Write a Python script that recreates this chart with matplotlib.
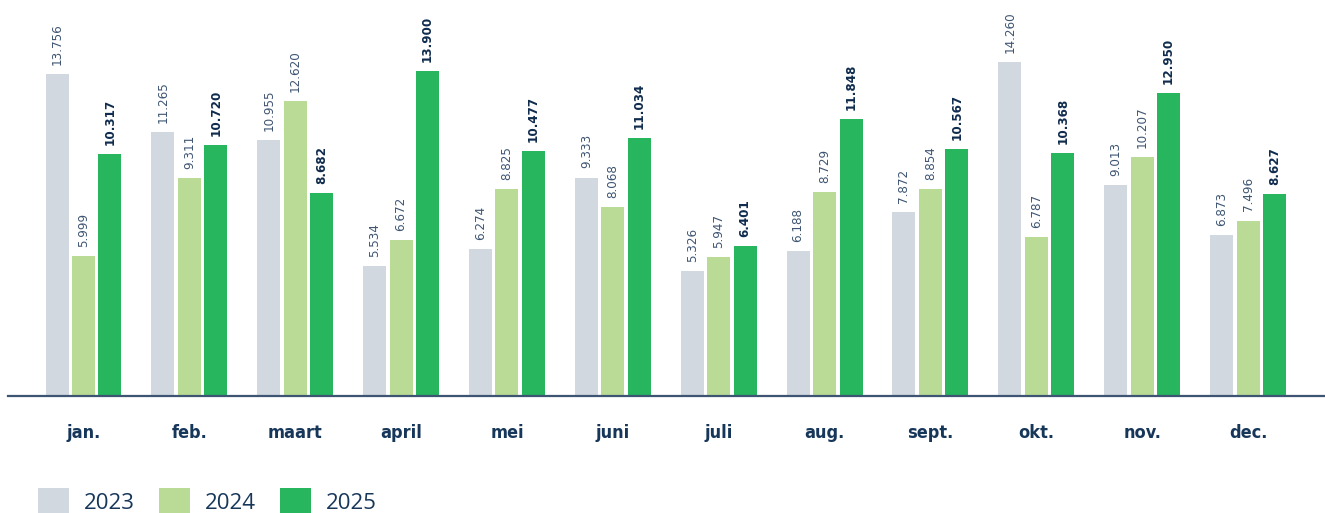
import matplotlib
matplotlib.use("Agg")
import matplotlib.pyplot as plt
import numpy as np

# monthly totals per year
months = ["jan.", "feb.", "maart", "april", "mei", "juni", "juli", "aug.", "sept.", "okt.", "nov.", "dec."]
years = ["2023", "2024", "2025"]
v2023 = [13756, 11265, 10955, 5534, 6274, 9333, 5326, 6188, 7872, 14260, 9013, 6873]
v2024 = [5999, 9311, 12620, 6672, 8825, 8068, 5947, 8729, 8854, 6787, 10207, 7496]
v2025 = [10317, 10720, 8682, 13900, 10477, 11034, 6401, 11848, 10567, 10368, 12950, 8627]

colors = ["#d1d8e0", "#badb95", "#27b55e"]
navy = "#17375a"
label_light = "#3e5573"

def nl(v):
    return f"{v:,}".replace(",", ".")

fig = plt.figure(figsize=(13.25, 5.13), dpi=100)
ax = fig.add_axes([8 / 1325, 117 / 513, 1 - 8 / 1325, 396 / 513])

x = np.arange(len(months))
w = 0.217
step = 0.25
bars = []
for i, (vals, c) in enumerate(zip([v2023, v2024, v2025], colors)):
    b = ax.bar(x + (i - 1) * step, vals, width=w, color=c, label=years[i], zorder=2)
    bars.append(b)
    bold = i == 2
    ax.bar_label(b, labels=[nl(v) for v in vals], rotation=90, padding=6.5,
                 fontsize=9.5, family="DejaVu Sans", fontstretch="condensed",
                 fontweight="bold" if bold else "light",
                 color="#0f2b4d" if bold else label_light)

ax.set_xlim(-0.713, 11.727)
ax.set_ylim(0, 16916)
for s in ["top", "left", "right"]:
    ax.spines[s].set_visible(False)
ax.spines["bottom"].set_color("#3d5573")
ax.spines["bottom"].set_linewidth(1.6)
ax.set_yticks([])
ax.set_xticks(x)
ax.set_xticklabels(months, family="DejaVu Sans", fontstretch="condensed",
                   fontsize=13, fontweight="bold", color=navy)
ax.tick_params(axis="x", length=0, pad=20)

fig.legend(handles=bars, labels=years, loc="lower left", bbox_to_anchor=(0.022, -0.02),
           ncol=3, frameon=False, handlelength=1.4, handleheight=1.45, handletextpad=0.65,
           columnspacing=1.1, borderaxespad=0,
           prop={"family": "Open Sans", "size": 16}, labelcolor=navy)

fig.savefig("out.png", dpi=100)
